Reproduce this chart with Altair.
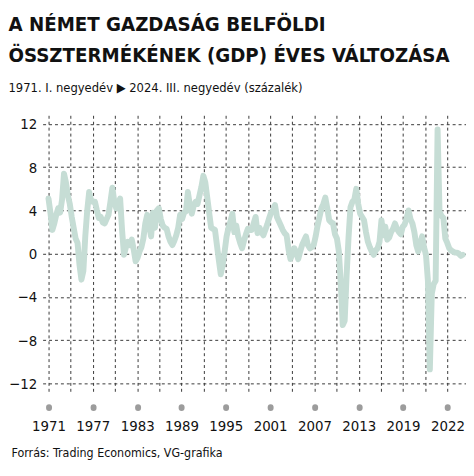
import altair as alt
import pandas as pd

# ---- data: German GDP, year-on-year change (%), 1971 Q1 .. 2024 Q3 ----
start_year = 1971
gdp_yoy = [
    5.1, 3.8, 2.2, 2.8,      # 1971
    3.6, 4.2, 3.8, 5.0,      # 1972
    7.4, 6.6, 5.4, 4.6,      # 1973
    3.4, 2.4, 1.4, 1.0,      # 1974
    -1.0, -2.4, -1.6, 1.6,   # 1975
    4.0, 5.7, 4.9, 4.8,      # 1976
    4.8, 4.0, 3.3, 3.4,      # 1977
    2.9, 2.8, 3.2, 3.6,      # 1978
    4.8, 6.1, 4.8, 4.2,      # 1979
    4.6, 5.1, 2.2, -0.1,     # 1980
    0.6, 1.1, 0.8, 1.3,      # 1981
    0.4, -0.7, -0.4, 0.2,    # 1982
    0.6, 1.4, 2.8, 3.6,      # 1983
    2.6, 1.6, 3.8, 2.4,      # 1984
    4.0, 4.2, 3.2, 2.6,      # 1985
    2.4, 2.3, 1.6, 1.1,      # 1986
    0.8, 1.2, 1.7, 2.4,      # 1987
    3.6, 3.2, 3.8, 3.9,      # 1988
    5.7, 4.5, 3.7, 4.4,      # 1989
    4.8, 4.6, 5.4, 6.2,      # 1990
    7.2, 6.6, 5.2, 3.8,      # 1991
    2.4, 2.3, 2.2, 0.8,      # 1992
    -0.6, -1.9, -1.0, 0.2,   # 1993
    1.6, 2.4, 3.0, 3.7,      # 1994
    2.0, 2.6, 1.6, 1.0,      # 1995
    0.5, 1.2, 1.8, 2.3,      # 1996
    2.2, 2.2, 2.8, 3.4,      # 1997
    1.9, 2.4, 2.0, 1.7,      # 1998
    2.2, 2.7, 3.3, 3.8,      # 1999
    4.0, 4.5, 3.4, 3.0,      # 2000
    2.6, 2.2, 1.9, 1.7,      # 2001
    0.4, -0.5, 0.0, 0.5,     # 2002
    0.1, -0.5, 0.2, 0.8,     # 2003
    1.2, 1.6, 0.8, 0.5,      # 2004
    0.6, 0.8, 1.6, 2.6,      # 2005
    3.4, 4.2, 4.6, 5.2,      # 2006
    4.2, 3.1, 2.9, 2.8,      # 2007
    1.8, 1.4, 0.2, -2.8,     # 2008
    -6.6, -6.2, -2.0, 1.5,   # 2009
    4.3, 4.8, 5.0, 6.0,      # 2010
    4.6, 3.7, 3.4, 3.1,      # 2011
    2.0, 1.1, 0.6, 0.2,      # 2012
    -0.1, 0.3, 0.5, 1.1,     # 2013
    3.1, 1.7, 2.5, 1.3,      # 2014
    1.5, 2.0, 2.3, 2.8,      # 2015
    2.3, 2.0, 1.8, 2.5,      # 2016
    2.7, 3.3, 4.0, 3.2,      # 2017
    2.8, 2.0, 0.8, 0.2,      # 2018
    0.9, 1.6, 0.6, -0.1,     # 2019
    -2.5, -10.7, -3.7, -2.8, # 2020
    -2.5, 11.5, 3.9, 3.5,    # 2021
    3.3, 1.4, 1.0, 0.5,      # 2022
    0.3, 0.2, 0.1, 0.1,      # 2023
    0.0, -0.2, -0.1,         # 2024 Q1-Q3
]

x_labels = ["1971", "1977", "1983", "1989", "1995", "2001", "2007", "2013", "2019", "2022"]
y_ticks = [-12, -8, -4, 0, 4, 8, 12]

title_lines = ["A NÉMET GAZDASÁG BELFÖLDI", "ÖSSZTERMÉKÉNEK (GDP) ÉVES VÁLTOZÁSA"]
subtitle_text = "1971. I. negyedév ▶ 2024. III. negyedév (százalék)"
source_text = "Forrás: Trading Economics, VG-grafika"

df = pd.DataFrame({
    "t": [start_year + i / 4 for i in range(len(gdp_yoy))],
    "v": gdp_yoy,
})

FONT = "DejaVu Sans Condensed, DejaVu Sans, sans-serif"
GRID_STEP = 2.8622
grid_vals = [start_year + k * GRID_STEP for k in range(2 * len(x_labels) - 1)]
k_expr = f"round((datum.value - {start_year}) / {GRID_STEP})"
label_js = "[" + ",".join(f"'{s}'" for s in x_labels) + "]"
label_expr = f"({k_expr} % 2 == 0) ? {label_js}[{k_expr} / 2] : ''"

GRID_COLOR = "#3a3a3a"

x_axis = alt.Axis(
    values=grid_vals, labelExpr=label_expr, grid=True, domain=False,
    gridColor=GRID_COLOR, gridDash=[3, 3], gridWidth=1,
    offset=12.5, tickSize=1, tickWidth=6, tickCap="round", tickColor="#9c9c9c",
    tickOpacity={"condition": {"test": f"{k_expr} % 2 == 0", "value": 1}, "value": 0},
    labelPadding=11, labelFont=FONT, labelFontSize=15, labelColor="#111111",
    labelOverlap=False, labelFlush=False,
    title=source_text, titleX=-32, titleY=50, titleAlign="left",
    titleBaseline="alphabetic", titleFont=FONT, titleFontSize=12.5,
    titleFontWeight="normal", titleColor="#111111",
)

y_axis = alt.Axis(
    values=y_ticks, grid=True, domain=False, ticks=False,
    gridColor=GRID_COLOR, gridDash=[3, 3], gridWidth=1,
    labelPadding=6, labelFont=FONT, labelFontSize=15, labelColor="#111111",
    title=None,
)

chart = alt.Chart(df).mark_line(
    color="#c6ddd5", strokeWidth=6, strokeJoin="round", strokeCap="round"
).encode(
    x=alt.X("t:Q", scale=alt.Scale(domain=[1970.24, 2024.92], nice=False, zero=False), axis=x_axis),
    y=alt.Y("v:Q", scale=alt.Scale(domain=[-13, 12.8], nice=False, zero=False), axis=y_axis),
).properties(
    width=463,
    height=453,
    autosize=alt.AutoSizeParams(type="fit", contains="padding"),
    padding={"left": 0, "top": 4, "right": 0, "bottom": 0},
    background="white",
    title=alt.TitleParams(
        text=title_lines, subtitle=subtitle_text, anchor="start", frame="bounds",
        font=FONT, fontSize=20.5, fontWeight="bold", lineHeight=32, color="#111111",
        subtitleFont=FONT, subtitleFontSize=13, subtitleColor="#111111",
        subtitlePadding=15, offset=21,
    ),
).configure_view(stroke=None)

chart.save("out.html", embed_options={"renderer": "svg", "actions": False})
